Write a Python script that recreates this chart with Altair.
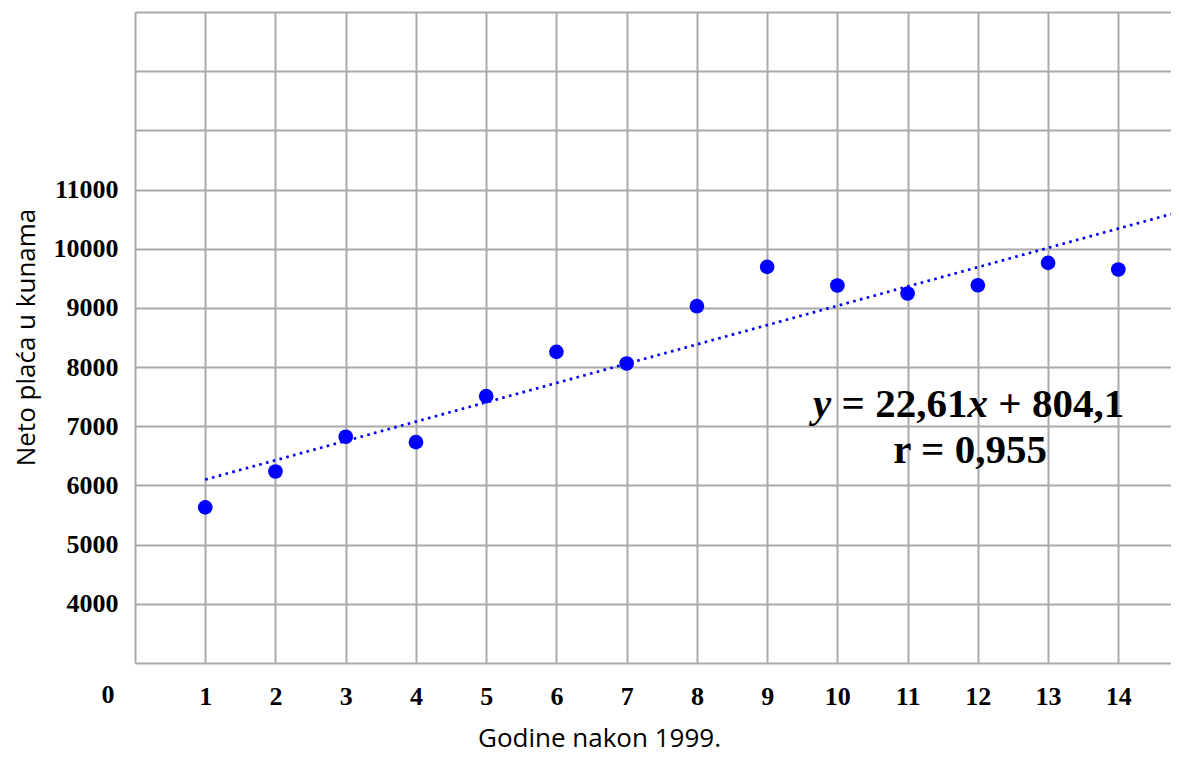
import altair as alt
import pandas as pd

# ---- data ----
years = [1, 2, 3, 4, 5, 6, 7, 8, 9, 10, 11, 12, 13, 14]
salary = [5630, 6236, 6823, 6732, 7509, 8258, 8061, 9029, 9694, 9378, 9243, 9383, 9762, 9649]

trend_x = [1, 14.75]
trend_y = [6100, 10585]

eq_segments = ["y", "= 22,61", "x", "+ 804,1"]
eq_italic = [True, False, True, False]
eq_dx = [0, 28.5, 154.4, 185.2]
eq_anchor = (9.654, 7160)
r_text = "r = 0,955"
r_anchor = (11.89, 6379)

x_ticks = list(range(1, 15))
y_ticks = list(range(4000, 14001, 1000))

GRID = "#aaaaaa"
BLUE = "#0000ff"
SERIF = "Liberation Serif"
SANS = "Open Sans"

x_axis = alt.Axis(
    values=x_ticks, grid=True, gridColor=GRID, gridWidth=2,
    domainColor=GRID, domainWidth=2, ticks=False, tickSize=0,
    labelFont=SERIF, labelFontWeight="bold", labelFontSize=26, labelColor="black",
    labelPadding=20, labelAngle=0,
    title="Godine nakon 1999.", titleFont=SANS, titleFontWeight="normal",
    titleFontSize=26, titleColor="black", titleX=464, titleY=75,
    titleBaseline="middle", titleAlign="center",
)
y_axis = alt.Axis(
    values=y_ticks, grid=True, gridColor=GRID, gridWidth=2,
    domainColor=GRID, domainWidth=2, ticks=False, tickSize=0,
    labelFont=SERIF, labelFontWeight="bold", labelFontSize=26, labelColor="black",
    labelPadding=17, labelExpr="datum.value > 11000 ? '' : datum.value",
    title="Neto plaća u kunama", titleFont=SANS, titleFontWeight="normal",
    titleFontSize=26, titleColor="black", titleX=-109, titleY=325,
    titleBaseline="middle", titleAlign="center", titleAngle=270,
)

X = alt.X("x:Q", scale=alt.Scale(domain=[0, 14.75], nice=False, zero=False), axis=x_axis)
Y = alt.Y("y:Q", scale=alt.Scale(domain=[3000, 14000], nice=False, zero=False), axis=y_axis)

pts = pd.DataFrame({"x": years, "y": salary})
trend = pd.DataFrame({"x": trend_x, "y": trend_y})

points = alt.Chart(pts).mark_circle(size=215, color=BLUE, opacity=1).encode(x=X, y=Y)
line = alt.Chart(trend).mark_line(
    color=BLUE, strokeWidth=2.7, strokeDash=[2.6, 4.4], strokeCap="butt"
).encode(x=X, y=Y)

layers = [line, points]

for seg, it, dx in zip(eq_segments, eq_italic, eq_dx):
    df = pd.DataFrame({"x": [eq_anchor[0]], "y": [eq_anchor[1]], "t": [seg]})
    layers.append(
        alt.Chart(df).mark_text(
            font=SERIF, fontSize=41, fontWeight="bold",
            fontStyle="italic" if it else "normal",
            align="left", baseline="alphabetic", dx=dx, color="black",
        ).encode(x=X, y=Y, text="t:N")
    )

rdf = pd.DataFrame({"x": [r_anchor[0]], "y": [r_anchor[1]], "t": [r_text]})
layers.append(
    alt.Chart(rdf).mark_text(
        font=SERIF, fontSize=41, fontWeight="bold", align="center",
        baseline="alphabetic", color="black",
    ).encode(x=X, y=Y, text="t:N")
)

zdf = pd.DataFrame({"x": [0], "y": [3000], "t": ["0"]})
layers.append(
    alt.Chart(zdf).mark_text(
        font=SERIF, fontSize=26, fontWeight="bold", align="center",
        baseline="middle", dx=-27, dy=32, color="black",
    ).encode(x=X, y=Y, text="t:N")
)

chart = alt.layer(*layers).properties(
    width=1036, height=651,
    autosize=alt.AutoSizeParams(type="none"),
    padding={"left": 127, "top": 4, "right": 0, "bottom": 93},
    background="white",
).configure_view(stroke=None)

chart.save("out.html", embed_options={"renderer": "svg", "actions": False})
